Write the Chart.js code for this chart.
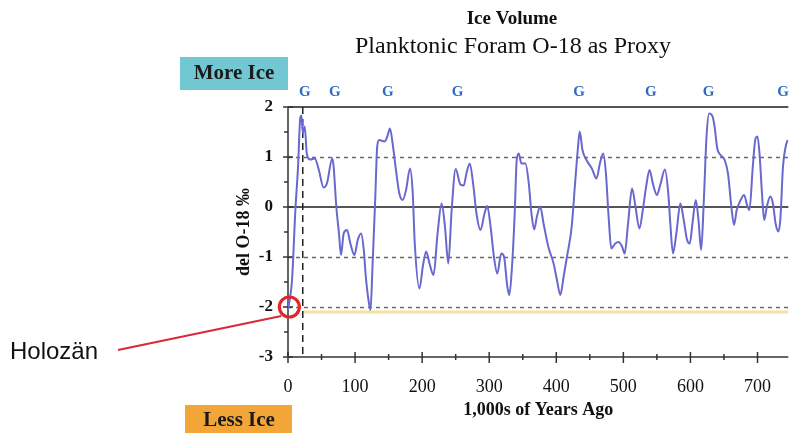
<!DOCTYPE html>
<html>
<head>
<meta charset="utf-8">
<script src="https://cdn.jsdelivr.net/npm/chart.js@4"></script>
<style>
  html, body { margin: 0; padding: 0; background: #fff; }
</style>
</head>
<body>
<canvas id="graficoGelo" width="790" height="433"></canvas>
<script>
// DADOS
const ages = [0, 6, 11, 15, 18, 20, 22, 25, 28, 33, 40, 46, 53, 58, 66, 68, 72, 76, 79, 83, 88, 93, 99, 104, 109, 113, 116, 120, 123, 126, 130, 133, 136, 144, 148, 152, 156, 161, 166, 171, 176, 182, 186, 189, 196, 201, 206, 211, 217, 223, 229, 234, 239, 244, 250, 257, 262, 266, 271, 276, 281, 287, 293, 297, 302, 307, 312, 318, 322, 327, 330, 334, 338, 341, 344, 348, 354, 359, 363, 367, 371, 376, 381, 388, 396, 401, 406, 411, 416, 423, 428, 432, 435, 439, 445, 453, 460, 465, 470, 474, 478, 482, 488, 493, 498, 502, 507, 513, 518, 524, 529, 534, 539, 544, 550, 555, 562, 567, 570, 574, 579, 585, 590, 595, 599, 603, 608, 612, 616, 620, 624, 628, 633, 636, 640, 645, 651, 656, 661, 665, 669, 675, 680, 685, 688, 693, 697, 700, 703, 707, 710, 714, 719, 723, 727, 731, 734, 738, 742, 745];
const delO18 = [-2.05, -1.46, -0.06, 0.81, 1.74, 1.83, 1.48, 1.61, 1.07, 0.95, 0.97, 0.74, 0.39, 0.47, 0.97, 0.81, 0.01, -0.53, -0.96, -0.53, -0.46, -0.73, -0.96, -0.66, -0.53, -0.86, -1.39, -1.86, -2.06, -1.19, 0.14, 1.21, 1.34, 1.31, 1.41, 1.57, 1.27, 0.74, 0.27, 0.14, 0.34, 0.77, 0.27, -0.73, -1.63, -1.19, -0.89, -1.13, -1.36, -0.53, 0.07, -0.39, -1.13, -0.06, 0.76, 0.45, 0.43, 0.67, 0.87, 0.47, -0.13, -0.46, -0.13, 0.02, -0.39, -0.99, -1.33, -0.93, -0.99, -1.59, -1.76, -1.19, -0.13, 0.94, 1.07, 0.87, 0.87, 0.47, -0.13, -0.45, -0.2, 0.01, -0.33, -0.79, -1.13, -1.46, -1.76, -1.39, -0.99, -0.39, 0.47, 1.14, 1.51, 1.14, 0.94, 0.77, 0.57, 0.87, 1.07, 0.67, -0.19, -0.83, -0.73, -0.7, -0.79, -0.93, -0.33, 0.37, 0.01, -0.43, -0.06, 0.41, 0.74, 0.47, 0.24, 0.44, 0.75, 0.27, -0.33, -0.93, -0.53, 0.07, -0.26, -0.66, -0.73, -0.33, 0.14, -0.26, -0.86, 0.14, 1.41, 1.87, 1.81, 1.61, 1.17, 1.04, 0.94, 0.67, 0.01, -0.36, -0.06, 0.14, 0.24, 0.01, -0.06, 0.81, 1.37, 1.41, 1.07, 0.21, -0.26, 0.01, 0.21, 0.07, -0.33, -0.49, -0.26, 0.81, 1.21, 1.34];

// marcas "G" (glaciais) no topo
const glacialAges = [25, 70, 149, 253, 434, 541, 627, 738];
const glacialLabel = "G";

// linhas horizontais
const solidLevels = [2, 0];
const dashedLevels = [1, -1, -2];
const holoceneLevel = -2.1;
const lgmAge = 22;
const holocenePoint = [2, -2];

const chartTitle = "Ice Volume";
const chartSubtitle = "Planktonic Foram O-18 as Proxy";
const xTitle = "1,000s of Years Ago";
const yTitle = "del O-18 \u2030";

const serif = '"Liberation Serif", "Times New Roman", serif';

let pontos = [];
for (let i = 0; i < ages.length; i++) {
  pontos.push({ x: ages[i], y: delO18[i] });
}

// LINHAS DE FUNDO E EIXOS
const fundoPlugin = {
  id: "fundo",
  beforeDatasetsDraw(chart) {
    const ctx = chart.ctx;
    const x = chart.scales.x;
    const y = chart.scales.y;
    const area = chart.chartArea;
    ctx.save();

    // linha amarela (holoceno)
    ctx.strokeStyle = "#f1e2a2";
    ctx.lineWidth = 3;
    ctx.beginPath();
    ctx.moveTo(x.getPixelForValue(lgmAge), y.getPixelForValue(holoceneLevel));
    ctx.lineTo(area.right, y.getPixelForValue(holoceneLevel));
    ctx.stroke();

    // tracejadas
    ctx.strokeStyle = "#6a6a6a";
    ctx.lineWidth = 1.5;
    ctx.setLineDash([4, 4]);
    for (let i = 0; i < dashedLevels.length; i++) {
      const py = Math.round(y.getPixelForValue(dashedLevels[i])) + 0.5;
      ctx.beginPath();
      ctx.moveTo(area.left, py);
      ctx.lineTo(area.right, py);
      ctx.stroke();
    }

    // cheias
    ctx.setLineDash([]);
    ctx.strokeStyle = "#555";
    ctx.lineWidth = 2;
    for (let i = 0; i < solidLevels.length; i++) {
      const py = Math.round(y.getPixelForValue(solidLevels[i]));
      ctx.beginPath();
      ctx.moveTo(area.left, py);
      ctx.lineTo(area.right, py);
      ctx.stroke();
    }

    // vertical tracejada (UMG)
    ctx.strokeStyle = "#222";
    ctx.lineWidth = 1.5;
    ctx.setLineDash([7, 5]);
    const vx = x.getPixelForValue(lgmAge);
    ctx.beginPath();
    ctx.moveTo(vx, area.top);
    ctx.lineTo(vx, area.bottom);
    ctx.stroke();
    ctx.setLineDash([]);

    // eixo y
    ctx.strokeStyle = "#333";
    ctx.lineWidth = 1.5;
    ctx.beginPath();
    ctx.moveTo(area.left, area.top);
    ctx.lineTo(area.left, area.bottom);
    ctx.stroke();
    for (let v = y.min; v <= y.max; v += 0.5) {
      const py = y.getPixelForValue(v);
      const inteiro = Math.abs(v - Math.round(v)) < 0.01;
      ctx.beginPath();
      ctx.moveTo(area.left - (inteiro ? 5 : 4), py);
      ctx.lineTo(area.left + (inteiro ? 5 : 0), py);
      ctx.stroke();
    }

    // eixo x
    ctx.beginPath();
    ctx.moveTo(area.left, area.bottom);
    ctx.lineTo(area.right, area.bottom);
    ctx.stroke();
    for (let v = 0; v <= x.max; v += 50) {
      const px = x.getPixelForValue(v);
      const maior = v % 100 === 0;
      ctx.beginPath();
      ctx.moveTo(px, area.bottom - (maior ? 5 : 3));
      ctx.lineTo(px, area.bottom + (maior ? 6 : 3));
      ctx.stroke();
    }
    ctx.restore();
  },

  afterDatasetsDraw(chart) {
    const ctx = chart.ctx;
    const x = chart.scales.x;
    const y = chart.scales.y;
    ctx.save();

    // titulos
    ctx.fillStyle = "#111";
    ctx.textAlign = "center";
    ctx.textBaseline = "middle";
    ctx.font = "bold 19px " + serif;
    ctx.fillText(chartTitle, 512, 19);
    ctx.font = "24px " + serif;
    ctx.fillText(chartSubtitle, 513, 47);

    // G
    ctx.fillStyle = "#2e6bc4";
    ctx.font = "bold 15px " + serif;
    for (let i = 0; i < glacialAges.length; i++) {
      ctx.fillText(glacialLabel, x.getPixelForValue(glacialAges[i]), 92);
    }

    // caixas
    ctx.fillStyle = "#72c8d2";
    ctx.fillRect(180, 57, 108, 33);
    ctx.fillStyle = "#f2a637";
    ctx.fillRect(185, 405, 107, 28);
    ctx.fillStyle = "#1a1a1a";
    ctx.font = "bold 21px " + serif;
    ctx.fillText("More Ice", 234, 74);
    ctx.fillText("Less Ice", 239, 421);

    // holoceno
    const cx = x.getPixelForValue(holocenePoint[0]);
    const cy = y.getPixelForValue(holocenePoint[1]);
    ctx.strokeStyle = "#d8283a";
    ctx.lineWidth = 2;
    ctx.beginPath();
    ctx.moveTo(118, 350);
    ctx.lineTo(cx - 8, cy + 9);
    ctx.stroke();
    ctx.strokeStyle = "#e3262a";
    ctx.lineWidth = 3.2;
    ctx.beginPath();
    ctx.arc(cx, cy, 10, 0, Math.PI * 2);
    ctx.stroke();

    ctx.fillStyle = "#111";
    ctx.textAlign = "left";
    ctx.font = '24px "Liberation Sans", Arial, sans-serif';
    ctx.fillText("Holoz\u00e4n", 10, 352);
    ctx.restore();
  },
};

new Chart(document.getElementById("graficoGelo"), {
  type: "line",
  data: {
    datasets: [
      {
        data: pontos,
        borderColor: "#6868cf",
        borderWidth: 2,
        pointRadius: 0,
        cubicInterpolationMode: "monotone",
        fill: false,
      },
    ],
  },
  options: {
    responsive: false,
    animation: false,
    layout: { padding: { left: 234, top: 107, right: 0, bottom: 0 } },
    plugins: { legend: { display: false }, tooltip: { enabled: false } },
    scales: {
      x: {
        type: "linear",
        min: 0,
        max: 746,
        grid: { display: false, drawTicks: false },
        border: { display: false },
        ticks: {
          stepSize: 100,
          includeBounds: false,
          padding: 19,
          color: "#111",
          font: { family: serif, size: 18 },
        },
        title: {
          display: true,
          text: xTitle,
          color: "#111",
          font: { family: serif, size: 18, weight: "bold" },
          padding: { top: 0, bottom: 12 },
        },
        afterFit(scale) {
          scale.height = 76;
        },
      },
      y: {
        min: -3,
        max: 2,
        grid: { display: false, drawTicks: false },
        border: { display: false },
        ticks: {
          stepSize: 1,
          padding: 15,
          color: "#111",
          font: { family: serif, size: 17, weight: "bold" },
        },
        title: {
          display: true,
          text: yTitle,
          color: "#111",
          font: { family: serif, size: 18, weight: "bold" },
          padding: { top: 0, bottom: 0 },
        },
        afterFit(scale) {
          scale.width = 54;
        },
      },
    },
  },
  plugins: [fundoPlugin],
});
</script>
</body>
</html>
